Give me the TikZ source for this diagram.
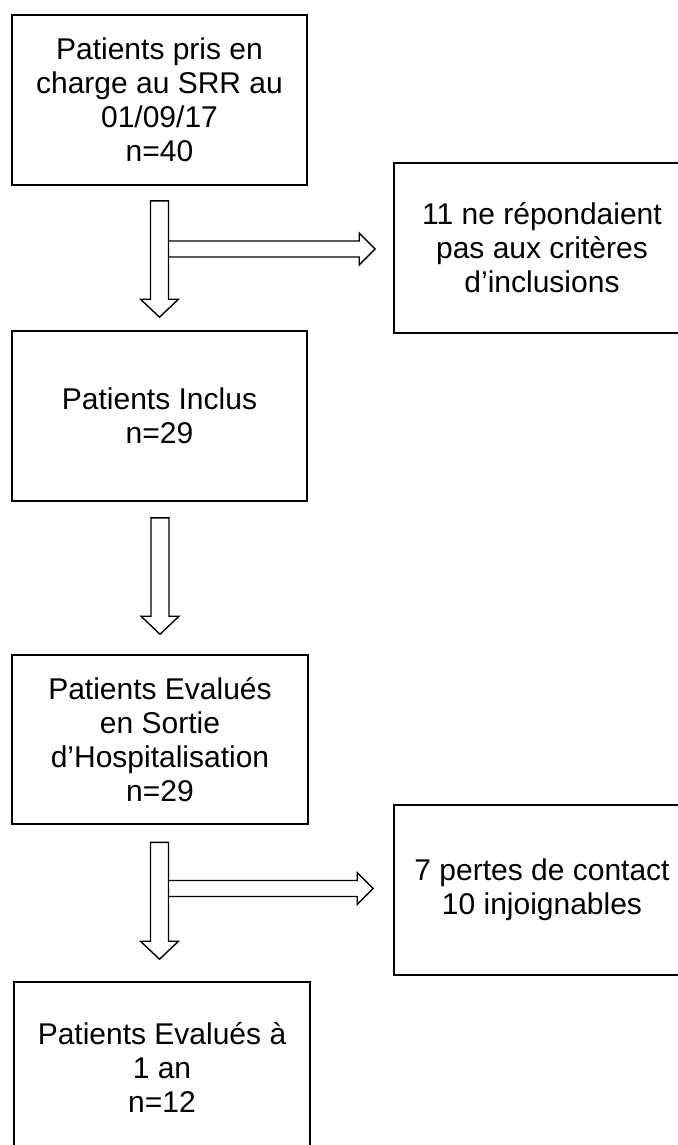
\documentclass[tikz,border=0pt]{standalone}
\usepackage{fontspec}
\setmainfont{Liberation Sans}
\usetikzlibrary{calc}
\tikzset{
  box/.style={draw=black, line width=1.6pt, fill=white, align=center,
    inner sep=0pt, font=\fontsize{30}{34}\selectfont},
  blockarrow/.style={draw=black, line width=1.4pt, line join=miter}
}
\newcommand\myDownArrow[2]{\draw[blockarrow] let \p1=(#1),\p2=(#2) in
  (\x1-9pt,\y1) -- (\x1-9pt,\y2+18pt) -- (\x1-19pt,\y2+18pt) -- (\x1,\y2)
  -- (\x1+19pt,\y2+18pt) -- (\x1+9pt,\y2+18pt) -- (\x1+9pt,\y1) -- cycle;}
\newcommand\myRightArrow[2]{\draw[blockarrow] let \p1=(#1),\p2=(#2) in
  (\x1,\y1+8pt) -- (\x2-16pt,\y1+8pt) -- (\x2-16pt,\y1+16pt) -- (\x2,\y1)
  -- (\x2-16pt,\y1-16pt) -- (\x2-16pt,\y1-8pt) -- (\x1,\y1-8pt);}
\begin{document}
\begin{tikzpicture}[x=1pt,y=-1pt]
\fill[white] (0,0) rectangle (677,1145);
\useasboundingbox (0,0) rectangle (677,1145);
% boxes
\node[box, minimum width=295pt, minimum height=170pt] (n1) at (159.5,100)
  {Patients pris en\\charge au SRR au\\01/09/17\\n=40};
\node[box, minimum width=295pt, minimum height=170pt] (n2) at (159.5,416)
  {Patients Inclus\\n=29};
\node[box, minimum width=296pt, minimum height=169pt] (n3) at (160,739.5)
  {Patients Evalués\\en Sortie\\d’Hospitalisation\\n=29};
\node[box, minimum width=296pt, minimum height=170pt] (n4) at (162,1067)
  {Patients Evalués à\\1 an\\n=12};
\node[box, minimum width=296pt, minimum height=170pt] (r1) at (542,248)
  {11 ne répondaient\\pas aux critères\\d’inclusions};
\node[box, minimum width=296pt, minimum height=170pt] (r2) at (542,890)
  {7 pertes de contact\\10 injoignables};
% arrow end points
\coordinate (a1t) at ($(n1.south)+(0,15)$);
\coordinate (a1b) at ($(n2.north)+(0,-13)$);
\coordinate (a2t) at ($(n2.south)+(0.5,16)$);
\coordinate (a2b) at ($(n3.north)+(0,-20)$);
\coordinate (a3t) at ($(n3.south)+(-0.5,17.5)$);
\coordinate (a3b) at ($(n4.north)+(0,-22)$);
\coordinate (h1s) at (169,249);
\coordinate (h1e) at ($(r1.west)+(-18,0)$);
\coordinate (h3s) at (169,888.5);
\coordinate (h3e) at ($(r2.west)+(-20,0)$);
% arrows
\myRightArrow{h1s}{h1e}
\myDownArrow{a1t}{a1b}
\myDownArrow{a2t}{a2b}
\myRightArrow{h3s}{h3e}
\myDownArrow{a3t}{a3b}
\end{tikzpicture}
\end{document}
